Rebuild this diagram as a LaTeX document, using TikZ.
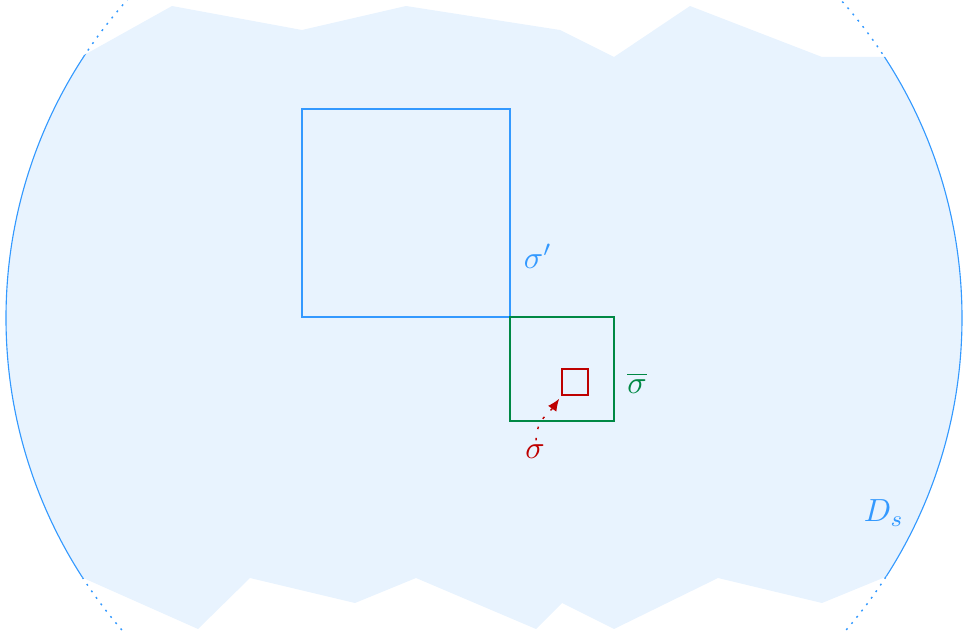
\documentclass[tikz,border=0pt]{standalone}
\usetikzlibrary{arrows.meta}
\definecolor{dblue}{RGB}{51,153,255}
\definecolor{dfill}{RGB}{232,243,254}
\definecolor{dgreen}{RGB}{0,136,68}
\definecolor{dred}{RGB}{190,0,0}
\tikzset{
  bluel/.style={draw=dblue, line width=0.35pt},
  lbl/.style={inner sep=0pt},
}
\begin{document}
\begin{tikzpicture}[x=0.3125pt,y=-0.3125pt]
\useasboundingbox (0,0) rectangle (967,631);
\clip (0,0) rectangle (967,631);
\def\jag{(0,102) -- (172,6) -- (302,30) -- (406,6) -- (560,30) -- (614,57) -- (690,6) -- (822,57) -- (967,57) -- (967,544) -- (883,578) -- (822,603) -- (718,578) -- (614,629) -- (562,603) -- (536,629) -- (416,578) -- (355,603) -- (250,578) -- (198,629) -- (0,541) -- cycle}
\coordinate (c) at (484,318);
% filled region
\begin{scope}
  \clip \jag;
  \fill[dfill] (c) circle[radius=478*0.3125pt];
  \draw[bluel] (c) circle[radius=478*0.3125pt];
\end{scope}
\begin{scope}[even odd rule]
  \clip (-5,-5) rectangle (972,636) \jag;
  \draw[bluel, line width=0.45pt, dash pattern=on 0.6pt off 1.9pt] (c) circle[radius=478*0.3125pt];
\end{scope}
% squares
\draw[bluel] (302,109) rectangle (510,317);
\draw[draw=dgreen, line width=0.35pt] (510,317) rectangle (614,421);
\node[draw=dred, line width=0.35pt, minimum size=26*0.3125pt, inner sep=0pt] (sq) at (575,382) {};
% labels
\node[lbl, text=dblue] (sigp) at (538,256) {$\sigma'$};
\node[lbl, text=dgreen] (sigb) at (637,383) {$\overline{\sigma}$};
\node[lbl, text=dred] (sig) at (535,452) {$\sigma$};
\node[lbl, text=dblue] (ds) at (884,513) {$D_s$};
% arrow
\draw[dred, line width=0.45pt, dash pattern=on 0.8pt off 2.8pt, -{Latex[length=3.8pt,width=3.2pt]}, shorten >=1.2pt]
  (sig.north) ++(1,-4) to[out=90, in=235] (sq.south west);
\end{tikzpicture}
\end{document}
